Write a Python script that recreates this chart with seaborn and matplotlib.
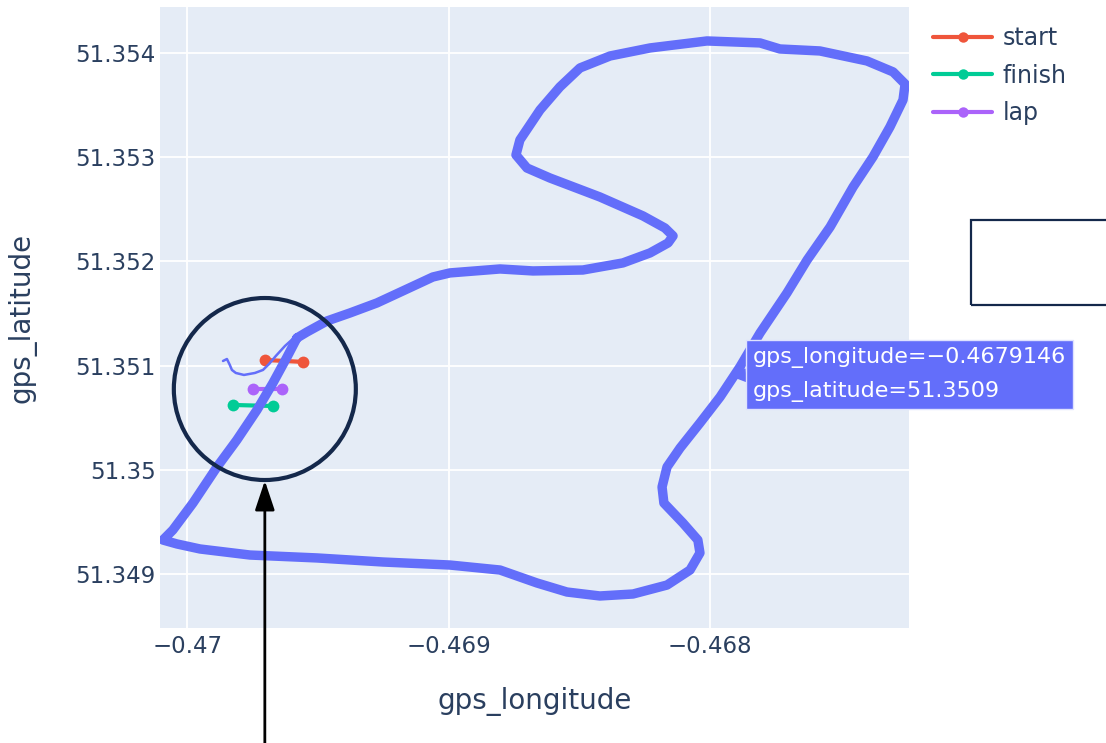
import matplotlib
matplotlib.use("Agg")
import matplotlib.pyplot as plt
import matplotlib.transforms as mtransforms
from matplotlib.patches import Circle, Rectangle
import pandas as pd
import seaborn as sns

# ---- GPS trace of the circuit (one representative lap outline) ----
track_lon = [-0.469580, -0.469542, -0.469465, -0.469377, -0.469274, -0.469175, -0.469060,
             -0.468995, -0.468803, -0.468677, -0.468486, -0.468333, -0.468229, -0.468160,
             -0.468141, -0.468172, -0.468256, -0.468421, -0.468612, -0.468700, -0.468742,
             -0.468727, -0.468650, -0.468574, -0.468497, -0.468382, -0.468229, -0.468011,
             -0.467808, -0.467732, -0.467579, -0.467399, -0.467299, -0.467253, -0.467261,
             -0.467311, -0.467376, -0.467452, -0.467540, -0.467628, -0.467705, -0.467808,
             -0.467885, -0.467961, -0.468038, -0.468114, -0.468164, -0.468183, -0.468176,
             -0.468103, -0.468046, -0.468038, -0.468076, -0.468164, -0.468294, -0.468421,
             -0.468547, -0.468662, -0.468803, -0.468995, -0.469251, -0.469504, -0.469760,
             -0.469951, -0.470039, -0.470093, -0.470055, -0.469978, -0.469886, -0.469810,
             -0.469733, -0.469672, -0.469618, -0.469580]
track_lat = [51.351266, 51.351323, 51.351429, 51.351506, 51.351602, 51.351717, 51.351851,
             51.351890, 51.351928, 51.351909, 51.351918, 51.351986, 51.352082, 51.352178,
             51.352245, 51.352321, 51.352437, 51.352619, 51.352801, 51.352897, 51.353022,
             51.353166, 51.353454, 51.353675, 51.353857, 51.353972, 51.354049, 51.354116,
             51.354097, 51.354039, 51.354020, 51.353924, 51.353819, 51.353703, 51.353550,
             51.353291, 51.353003, 51.352715, 51.352331, 51.352014, 51.351698, 51.351314,
             51.350988, 51.350700, 51.350450, 51.350210, 51.350028, 51.349836, 51.349682,
             51.349490, 51.349327, 51.349203, 51.349039, 51.348895, 51.348809, 51.348790,
             51.348828, 51.348915, 51.349039, 51.349087, 51.349116, 51.349155, 51.349183,
             51.349241, 51.349289, 51.349327, 51.349423, 51.349682, 51.350028, 51.350287,
             51.350575, 51.350834, 51.351083, 51.351266]

# pit-lane exit joining the circuit
pit_lon = [-0.469863, -0.469848, -0.469837, -0.469829, -0.469814, -0.469783,
           -0.469741, -0.469710, -0.469687, -0.469661, -0.469626, -0.469588]
pit_lat = [51.351045, 51.351064, 51.351007, 51.350959, 51.350930, 51.350911,
           51.350930, 51.350959, 51.351016, 51.351093, 51.351189, 51.351275]

# timing lines (two end points each)
line_names = ["start", "finish", "lap"]
start_lon = [-0.469703, -0.469557]
start_lat = [51.351055, 51.351036]
finish_lon = [-0.469825, -0.469672]
finish_lat = [51.350623, 51.350613]
lap_lon = [-0.469749, -0.469638]
lap_lat = [51.350776, 51.350776]

# hovered sample
hover_lon = -0.4679146
hover_lat = 51.3509

x_ticks = [-0.470, -0.469, -0.468]
x_tick_labels = ["\u22120.47", "\u22120.469", "\u22120.468"]
y_ticks = [51.349, 51.350, 51.351, 51.352, 51.353, 51.354]
y_tick_labels = ["51.349", "51.35", "51.351", "51.352", "51.353", "51.354"]

TRACE = "#636efa"
INK = "#2a3f5f"
NAVY = "#14284b"
palette = {"start": "#ef553b", "finish": "#00cc96", "lap": "#ab63fa"}

sns.set_theme(style="darkgrid")
plt.rcParams["font.family"] = ["DejaVu Sans"]

fig = plt.figure(figsize=(11.06, 7.43), dpi=100)
fig.patch.set_facecolor("white")
ax = fig.add_axes([0.1447, 0.1544, 0.6772, 0.8362])
ax.set_facecolor("#e5ecf6")
ax.grid(True, color="white", linewidth=1.3)
for s in ax.spines.values():
    s.set_visible(False)

track = pd.DataFrame({"gps_longitude": track_lon, "gps_latitude": track_lat})
pit = pd.DataFrame({"gps_longitude": pit_lon, "gps_latitude": pit_lat})
timing = pd.DataFrame({
    "gps_longitude": start_lon + finish_lon + lap_lon,
    "gps_latitude": start_lat + finish_lat + lap_lat,
    "line": ["start"] * 2 + ["finish"] * 2 + ["lap"] * 2,
})

sns.lineplot(data=timing, x="gps_longitude", y="gps_latitude", hue="line",
             hue_order=line_names, palette=palette, sort=False, estimator=None,
             marker="o", markersize=8.5, markeredgewidth=0, linewidth=3, ax=ax, zorder=2)
sns.lineplot(data=track, x="gps_longitude", y="gps_latitude", sort=False, estimator=None,
             color=TRACE, linewidth=6.8, ax=ax, zorder=3, legend=False,
             solid_joinstyle="round", solid_capstyle="round")
sns.lineplot(data=pit, x="gps_longitude", y="gps_latitude", sort=False, estimator=None,
             color=TRACE, linewidth=1.8, ax=ax, zorder=3, legend=False,
             solid_joinstyle="round", solid_capstyle="round")

ax.set_xlim(-0.470104, -0.467238)
ax.set_ylim(51.348480, 51.354442)
ax.set_xticks(x_ticks, x_tick_labels)
ax.set_yticks(y_ticks, y_tick_labels)
ax.tick_params(axis="both", length=0, colors=INK, labelsize=16.5)
ax.tick_params(axis="y", pad=3)
ax.tick_params(axis="x", pad=5)
ax.set_xlabel("gps_longitude", fontsize=20, color=INK, labelpad=21)
ax.set_ylabel("gps_latitude", fontsize=20, color=INK, labelpad=28)

handles, labels = ax.get_legend_handles_labels()
leg = ax.legend(handles, labels, loc="upper left", bbox_to_anchor=(0.8436, 0.965),
                bbox_transform=fig.transFigure, frameon=False, fontsize=17,
                handlelength=2.5, handletextpad=0.45, labelspacing=0.58,
                borderpad=0, borderaxespad=0)
for t in leg.get_texts():
    t.set_color(INK)
for h in leg.legend_handles:
    h.set_markersize(7.5)

# hover tooltip on the trace
hover_text = ("gps_longitude=" + f"{hover_lon}".replace("-", "\u2212") +
              "\ngps_latitude=" + f"{hover_lat}")
ax.annotate(hover_text, xy=(hover_lon, hover_lat), xytext=(15, 1),
            textcoords="offset points", ha="left", va="center", color="white",
            fontsize=16, linespacing=1.78, zorder=6,
            bbox=dict(boxstyle="square,pad=0.32", fc=TRACE, ec="#dfe2fe", lw=1),
            arrowprops=dict(arrowstyle="wedge,tail_width=0.55", fc=TRACE, ec=TRACE,
                            relpos=(0, 0.5), shrinkA=0, shrinkB=0))

# highlight around the timing lines, with a pointer from below
hl_lon, hl_lat = -0.469703, 51.350776
ring_tf = fig.dpi_scale_trans + mtransforms.ScaledTranslation(hl_lon, hl_lat, ax.transData)
ax.add_artist(Circle((0, 0), 0.91, transform=ring_tf, fill=False, ec=NAVY, lw=3,
                     zorder=7, clip_on=False))
ax.annotate("", xy=(hl_lon, hl_lat), xytext=(0, -262), textcoords="offset points",
            arrowprops=dict(arrowstyle="-|>,head_length=0.9,head_width=0.3", color="black",
                            lw=2, mutation_scale=20, shrinkA=0, shrinkB=66),
            annotation_clip=False, zorder=8)

# empty callout frame at the right
fig.add_artist(Rectangle((971 / 1106, 1 - 305 / 743), 200 / 1106, 85 / 743,
                         transform=fig.transFigure, fill=False, ec=NAVY, lw=1.6))

fig.savefig("out.png", dpi=100, facecolor="white")
